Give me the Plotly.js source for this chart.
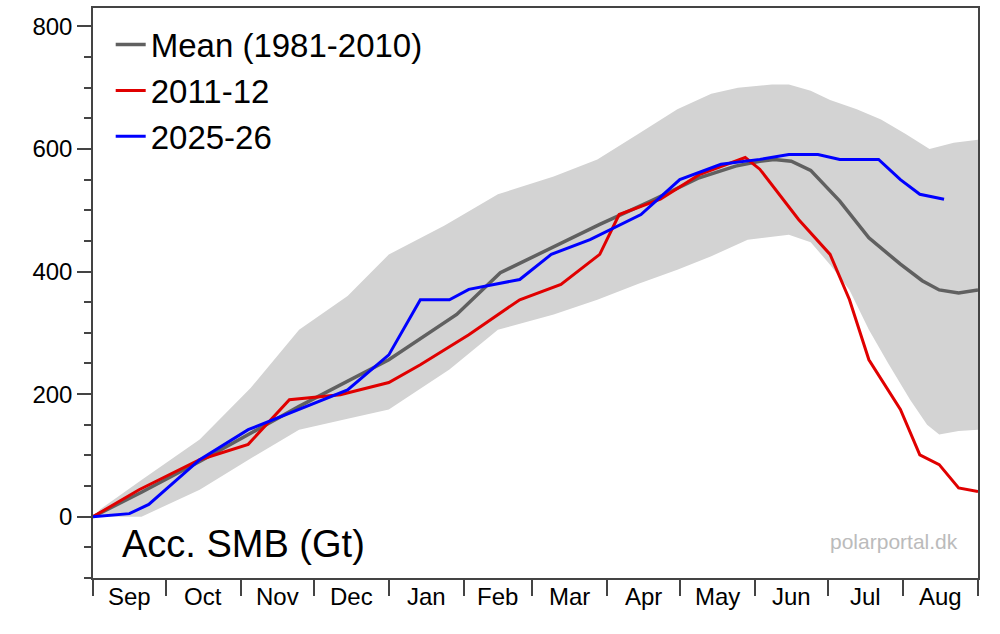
<!DOCTYPE html>
<html><head><script src="https://cdn.plot.ly/plotly-3.0.1.min.js"></script>
<style>body{margin:0}</style></head><body><div id="c" style="width:1000px;height:634px"></div>
<script>
const meanDays=[0,20,44,85,122,150,168,190,209,230,250,265,275,281,288,296,308,320,333,342,349,357,365];
const meanVals=[0,40,90,180,256,330,398,440,477,515,553,572,580,583,580,565,515,455,412,385,370,365,370];
const upDays=[0,3,20,44,65,85,105,122,145,167,190,208,225,241,255,266,280,287,296,304,315,325,335,345,355,365];
const upVals=[0,12,60,126,210,305,360,428,475,526,555,583,625,665,690,700,705,705,695,680,665,648,625,600,610,615];
const loDays=[0,20,44,65,85,105,122,147,167,190,208,225,241,255,270,287,296,304,312,320,328,337,344,349,357,365];
const loVals=[0,0,44,95,142,160,175,240,305,330,354,380,403,425,452,460,448,411,370,305,250,191,150,134,140,142];
const redDays=[0,19,44,64,81,102,122,135,155,176,193,209,217,234,250,269,275,291,304,312,320,333,341,349,357,365];
const redVals=[0,44,93,118,191,199,219,248,297,354,379,428,493,518,558,586,567,485,428,354,256,175,101,85,47,41];
const bluDays=[0,15,23,44,64,85,105,122,135,147,155,176,189,205,226,242,259,275,287,299,308,324,333,341,351];
const bluVals=[0,5,20,93,142,175,207,264,354,354,371,387,428,452,493,550,575,583,591,591,583,583,550,526,518];
const monthLabels=['Sep','Oct','Nov','Dec','Jan','Feb','Mar','Apr','May','Jun','Jul','Aug'];
const monthStarts=[0,30,61,91,122,153,181,212,242,273,303,334,365];
const mid=monthLabels.map((m,i)=>(monthStarts[i]+monthStarts[i+1])/2);
const traces=[
 {x:upDays.concat(loDays.slice().reverse()),y:upVals.concat(loVals.slice().reverse()),mode:'lines',fill:'toself',fillcolor:'#d3d3d3',line:{width:0},showlegend:false,hoverinfo:'skip'},
 {x:meanDays,y:meanVals,mode:'lines',name:'Mean (1981-2010)',line:{color:'#606060',width:3.5}},
 {x:redDays,y:redVals,mode:'lines',name:'2011-12',line:{color:'#e00000',width:3}},
 {x:bluDays,y:bluVals,mode:'lines',name:'2025-26',line:{color:'#0000ff',width:3}}
];
const ann=monthLabels.map((m,i)=>({x:mid[i],y:0,xref:'x',yref:'paper',yshift:-34,text:m,showarrow:false,font:{size:24,color:'#000'}}));
ann.push({x:0.03,y:0.02,xref:'paper',yref:'paper',xanchor:'left',yanchor:'bottom',text:'Acc. SMB (Gt)',showarrow:false,font:{size:38,color:'#000'}});
ann.push({x:0.98,y:0.04,xref:'paper',yref:'paper',xanchor:'right',yanchor:'bottom',text:'polarportal.dk',showarrow:false,font:{size:21,color:'#bbbbbb'}});
Plotly.newPlot('c',traces,{
 width:1000,height:634,margin:{l:93,r:22,t:8,b:56},
 font:{family:'Liberation Sans, Arial, sans-serif',color:'#000'},
 paper_bgcolor:'#fff',plot_bgcolor:'#fff',
 xaxis:{range:[0,365],tickvals:monthStarts,ticktext:monthStarts.map(()=>''),ticks:'outside',ticklen:16,tickwidth:1.5,tickcolor:'#444',showgrid:false,zeroline:false,showline:true,linecolor:'#444',linewidth:1.5,mirror:true},
 yaxis:{range:[-100,830],tickvals:[0,200,400,600,800],ticks:'outside',ticklen:14,tickwidth:1.5,tickcolor:'#444',tickfont:{size:24},showgrid:false,zeroline:false,showline:true,linecolor:'#444',linewidth:1.5,mirror:true,
  minor:{tickvals:[-100,-50,50,100,150,250,300,350,450,500,550,650,700,750],ticks:'outside',ticklen:7,tickcolor:'#444',showgrid:false}},
 legend:{x:0.02,y:0.985,xanchor:'left',yanchor:'top',font:{size:33},bgcolor:'rgba(0,0,0,0)',tracegroupgap:0},
 annotations:ann
},{displayModeBar:false});
</script></body></html>
